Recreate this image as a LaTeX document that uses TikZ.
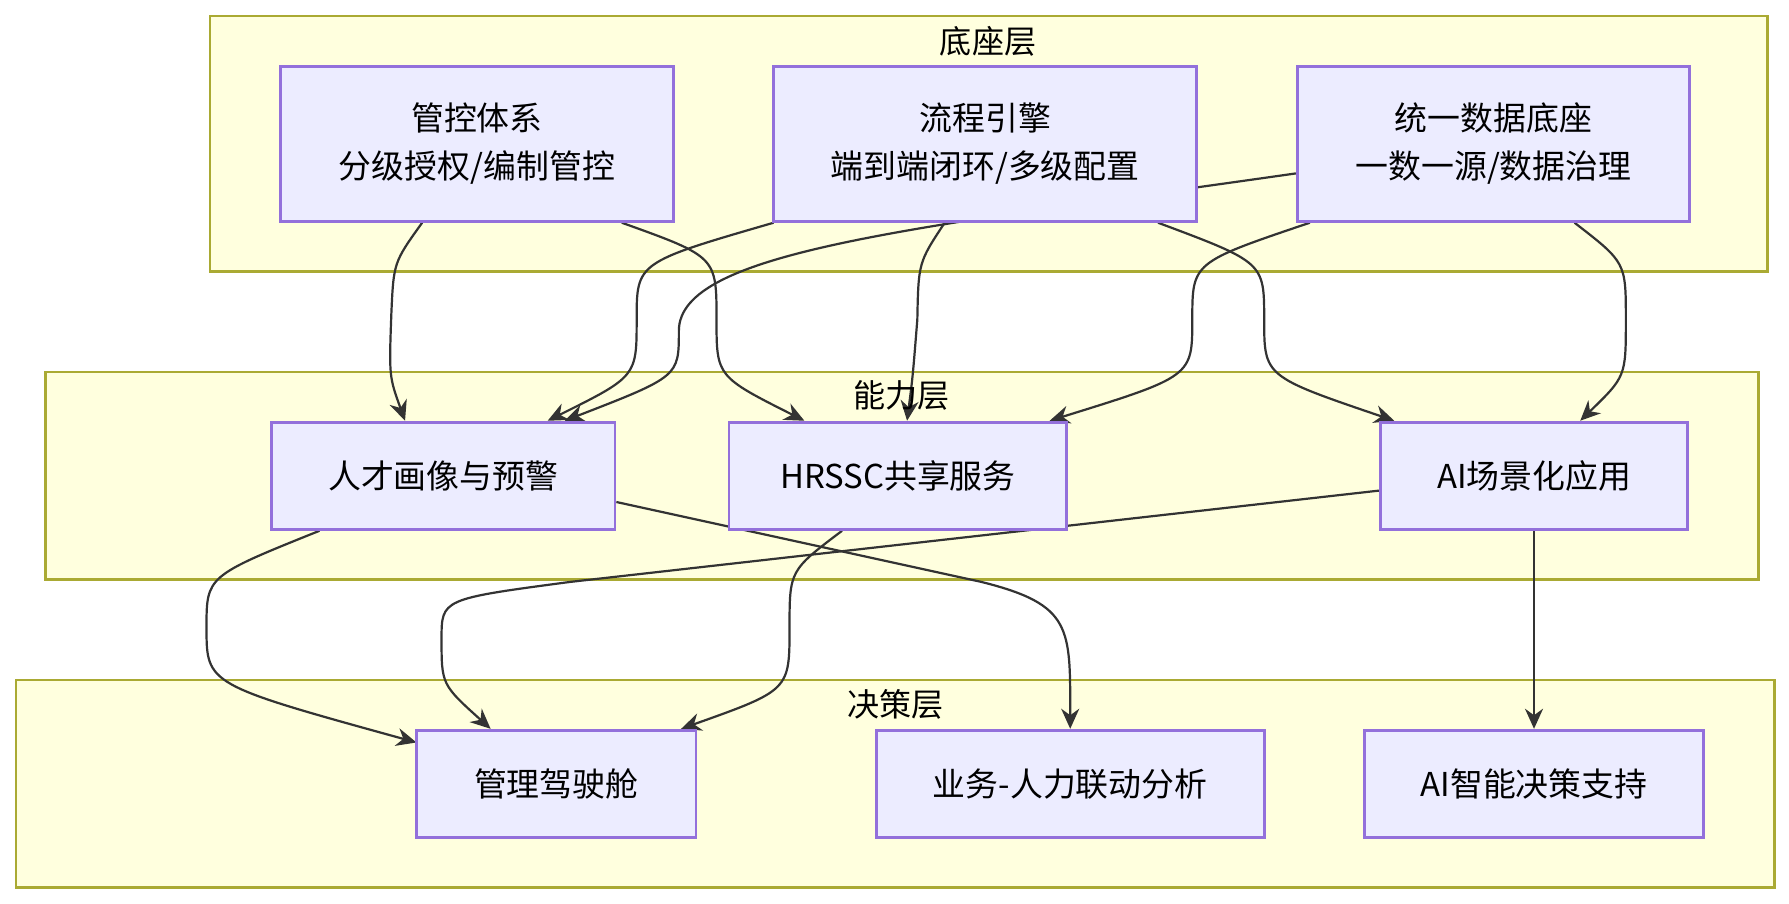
\documentclass[tikz,border=0pt]{standalone}
\usepackage{fontspec}
\setmainfont{Noto Sans CJK SC}
\usetikzlibrary{arrows.meta}
\definecolor{boxfill}{HTML}{ECECFF}
\definecolor{boxline}{HTML}{9370DB}
\definecolor{grpfill}{HTML}{FFFFDE}
\definecolor{grpline}{HTML}{AAAA33}
\definecolor{edgecol}{HTML}{333333}
\pgfdeclarelayer{grp}
\pgfdeclarelayer{edges}
\pgfsetlayers{grp,edges,main}
\tikzset{
  box/.style={draw=boxline, fill=boxfill, line width=0.7pt, align=center,
    font=\fontsize{8.2}{12}\selectfont, inner sep=0pt},
  grp/.style={draw=grpline, fill=grpfill, line width=0.7pt},
  title/.style={font=\fontsize{8}{9}\selectfont},
  link/.style={draw=edgecol, line width=0.55pt, -{Stealth[length=5pt,width=4.5pt]}}
}
\begin{document}
\begin{tikzpicture}
    \useasboundingbox (0,0) rectangle (15.68,-7.92);

    \node[box, minimum width=3.44cm, minimum height=1.36cm] (gk) at (4.18,-1.26) {管控体系\\分级授权/编制管控};
    \node[box, minimum width=3.71cm, minimum height=1.36cm] (lc) at (8.635,-1.26) {流程引擎\\端到端闭环/多级配置};
    \node[box, minimum width=3.44cm, minimum height=1.36cm] (tj) at (13.09,-1.26) {统一数据底座\\一数一源/数据治理};

    \node[box, minimum width=3.01cm, minimum height=0.94cm] (rc) at (3.885,-4.17) {人才画像与预警};
    \node[box, minimum width=2.96cm, minimum height=0.94cm] (hr) at (7.87,-4.17) {HRSSC共享服务};
    \node[box, minimum width=2.69cm, minimum height=0.94cm] (ai) at (13.445,-4.17) {AI场景化应用};

    \node[box, minimum width=2.45cm, minimum height=0.94cm] (jsc) at (4.875,-6.87) {管理驾驶舱};
    \node[box, minimum width=3.40cm, minimum height=0.94cm] (yw) at (9.38,-6.87) {业务-人力联动分析};
    \node[box, minimum width=2.97cm, minimum height=0.94cm] (zn) at (13.445,-6.87) {AI智能决策支持};

    \begin{pgfonlayer}{grp}
    \draw[grp] (1.84,-0.14) rectangle (15.49,-2.38);
    \draw[grp] (0.40,-3.26) rectangle (15.41,-5.08);
    \draw[grp] (0.14,-5.96) rectangle (15.55,-7.78);
    \end{pgfonlayer}

%labels
    \node[title] (t1) at (8.66,-0.36) {底座层};
    \node[title] (t2) at (7.90,-3.47) {能力层};
    \node[title] (t3) at (7.85,-6.17) {决策层};

    \begin{pgfonlayer}{edges}
    \draw[link] ([xshift=-0.48cm]gk.south) .. controls (3.45,-2.3) .. (3.43,-2.75)
        .. controls (3.41,-3.3) .. ([xshift=-0.335cm]rc.north);
    \draw[link] ([xshift=1.27cm]gk.south) .. controls (6.28,-2.25) .. (6.28,-2.8)
        .. controls (6.28,-3.3) .. ([xshift=-0.82cm]hr.north);
    \draw[link] ([xshift=-1.855cm]lc.south) .. controls (5.58,-2.3) .. (5.58,-2.8)
        .. controls (5.58,-3.3) .. ([xshift=0.915cm]rc.north);
    \draw[link] ([xshift=-0.355cm]lc.south) .. controls (8.05,-2.3) .. (8.04,-2.8)
        .. controls (8.0,-3.3) .. ([xshift=0.08cm]hr.north);
    \draw[link] ([xshift=1.515cm]lc.south) .. controls (11.08,-2.3) .. (11.08,-2.8)
        .. controls (11.08,-3.3) .. ([xshift=-1.225cm]ai.north);
    \draw[link] ([yshift=-0.26cm]tj.west) .. controls (8,-2.0) and (5.95,-2.2) .. (5.95,-2.9)
        .. controls (5.95,-3.3) .. ([xshift=1.065cm]rc.north);
    \draw[link] ([xshift=-1.61cm]tj.south) .. controls (10.45,-2.3) .. (10.45,-2.8)
        .. controls (10.45,-3.3) .. ([xshift=1.33cm]hr.north);
    \draw[link] ([xshift=0.71cm]tj.south) .. controls (14.25,-2.3) .. (14.25,-2.8)
        .. controls (14.25,-3.3) .. ([xshift=0.405cm]ai.north);

    \draw[link] ([xshift=-1.085cm]rc.south) .. controls (1.81,-5.05) .. (1.81,-5.5)
        .. controls (1.81,-6.0) .. ([xshift=-1.225cm,yshift=-0.12cm]jsc.north);
    \draw[link] ([yshift=-0.23cm]rc.east) -- (8.6,-5.1) .. controls (9.4,-5.3) and (9.38,-5.5) .. (yw.north);
    \draw[link] ([xshift=-0.49cm]hr.south) .. controls (6.92,-5.0) .. (6.92,-5.5)
        .. controls (6.92,-6.05) .. ([xshift=1.095cm]jsc.north);
    \draw[link] ([yshift=-0.13cm]ai.west) -- (5.0,-5.1) .. controls (3.87,-5.25) .. (3.87,-5.6)
        .. controls (3.87,-6.0) .. ([xshift=-0.575cm]jsc.north);
    \draw[link] (ai.south) -- (zn.north);
    \end{pgfonlayer}
\end{tikzpicture}
\end{document}
